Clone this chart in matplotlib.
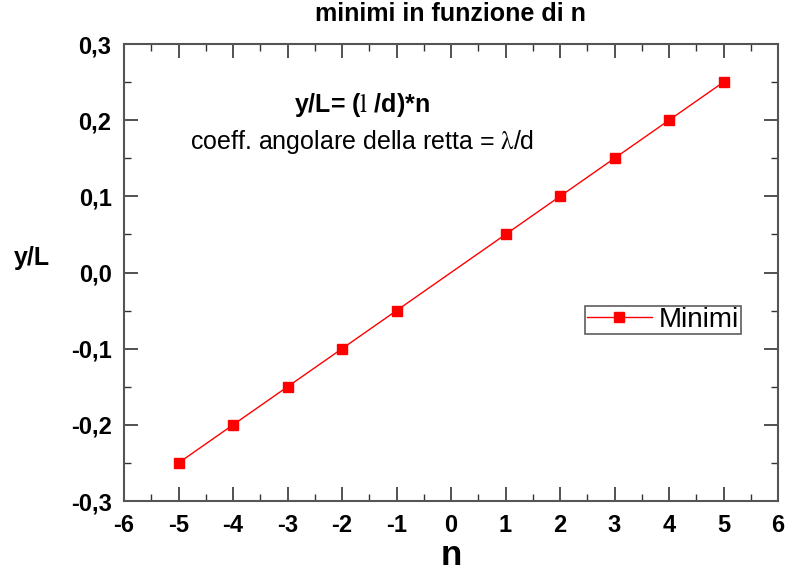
import numpy as np
import matplotlib.pyplot as plt
from matplotlib.ticker import MultipleLocator, FuncFormatter

# Data: minima order n and y/L
n = [-5, -4, -3, -2, -1, 1, 2, 3, 4, 5]
y_over_L = [-0.25, -0.20, -0.15, -0.10, -0.05, 0.05, 0.10, 0.15, 0.20, 0.25]

plt.rcParams['font.family'] = ['Liberation Sans', 'DejaVu Sans']
plt.rcParams['mathtext.fontset'] = 'stix'

fig = plt.figure(figsize=(7.87, 5.76), dpi=100)
ax = fig.add_axes([0.1576, 0.1302, 0.831, 0.7934])

ax.plot(n, y_over_L, color="red", lw=1, marker="s", markersize=7,
        markeredgecolor="red", label="Minimi")

ax.set_xlim(-6, 6)
ax.set_ylim(-0.3, 0.3)
ax.xaxis.set_major_locator(MultipleLocator(1))
ax.xaxis.set_minor_locator(MultipleLocator(0.5))
ax.yaxis.set_major_locator(MultipleLocator(0.1))
ax.yaxis.set_minor_locator(MultipleLocator(0.05))
ax.yaxis.set_major_formatter(FuncFormatter(lambda v, p: f"{v:.1f}".replace(".", ",").replace("-0,0", "0,0")))
ax.xaxis.set_major_formatter(FuncFormatter(lambda v, p: f"{int(round(v))}"))

ax.tick_params(which="both", direction="in", top=True, right=True, color="#333333")
ax.tick_params(which="major", length=10, width=1.2, labelsize=17, pad=9)
ax.tick_params(which="minor", length=5, width=1.0)
for lbl in ax.get_xticklabels() + ax.get_yticklabels():
    lbl.set_fontweight("bold")
for s in ax.spines.values():
    s.set_linewidth(1.5)
    s.set_color("#555555")

ax.set_xlabel("n", fontsize=25, fontweight="bold", labelpad=2)
fig.text(0.04, 0.552, "y/L", fontsize=18, fontweight="bold", ha="center", va="center")
fig.text(0.572, 0.976, "minimi in funzione di n", fontsize=18, fontweight="bold",
         ha="center", va="center")

ax.text(0.364, 0.8665, r"y/L= ($\mathrm{l}$ /d)*n", transform=ax.transAxes,
        fontsize=18, fontweight="bold", ha="center", va="center")
ax.text(0.364, 0.7856, r"coeff. angolare della retta = $\mathrm{\lambda}$/d", transform=ax.transAxes,
        fontsize=18, ha="center", va="center")

leg = ax.legend(loc="center", bbox_to_anchor=(0.824, 0.396), fontsize=20,
                frameon=True, fancybox=False, handlelength=2.35, borderpad=0.05,
                handletextpad=0.25, borderaxespad=0)
leg.get_frame().set_edgecolor("#333333")
leg.get_frame().set_linewidth(1.2)

fig.savefig("out.png", dpi=100)
